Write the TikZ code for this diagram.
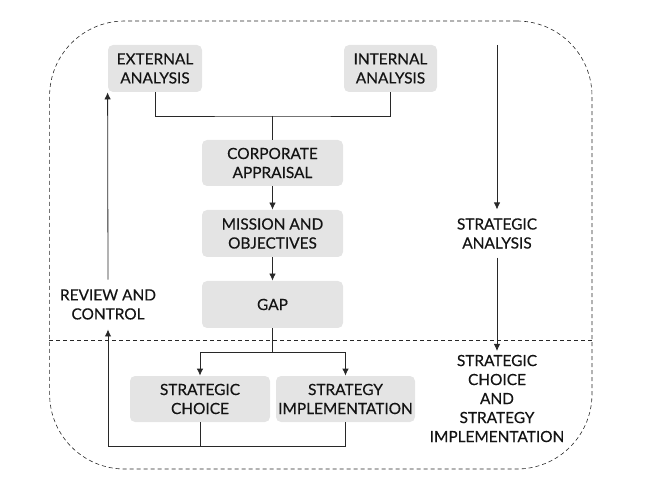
\documentclass[tikz,border=0pt]{standalone}
\usepackage{fontspec}
\setmainfont{Lato}[UprightFeatures={FakeBold=0.4}]
\usetikzlibrary{arrows.meta}
\definecolor{boxgray}{RGB}{228,228,228}
\definecolor{linegray}{RGB}{40,40,40}
\definecolor{textdark}{RGB}{20,20,20}
\begin{document}
\begin{tikzpicture}[x=1pt,y=-1pt,
    color=linegray, line width=0.8pt,
    every node/.style={text=textdark, font=\fontsize{15.4}{19}\selectfont},
    box/.style={fill=boxgray, rounded corners=5pt, align=center, inner sep=0pt},
    lbl/.style={align=center},
    frame/.style={draw, dash pattern=on 4pt off 3pt, rounded corners=75pt, line width=0.6pt},
    arr/.style={-{Latex[length=7pt,width=6.5pt]}}]
    \useasboundingbox (0,0) rectangle (649,484);

    \node[frame, minimum width=542.4pt, minimum height=448pt] (outer) at (320.8,245) {};

    \node[box, minimum width=94pt, minimum height=47pt] (ext) at (155,68.5) {EXTERNAL\\ANALYSIS};
    \node[box, minimum width=93pt, minimum height=47pt] (int) at (390.5,68.5) {INTERNAL\\ANALYSIS};
    \node[box, minimum width=141pt, minimum height=46pt] (corp) at (272.5,163) {CORPORATE\\APPRAISAL};
    \node[box, minimum width=141pt, minimum height=47pt] (mission) at (272.5,233.5) {MISSION AND\\OBJECTIVES};
    \node[box, minimum width=141pt, minimum height=47pt] (gap) at (272.5,304.5) {GAP};
    \node[box, minimum width=140pt, minimum height=46pt] (choice) at (200,399) {STRATEGIC\\CHOICE};
    \node[box, minimum width=139pt, minimum height=46pt] (impl) at (345.5,399) {STRATEGY\\IMPLEMENTATION};
    \node[lbl, inner sep=9.5pt] (review) at (108,304.5) {REVIEW AND\\CONTROL};
    \node[lbl, inner sep=8.5pt] (analysis) at (497,233.5) {STRATEGIC\\ANALYSIS};
    \node[lbl, inner sep=3.5pt, anchor=north] (choiceimpl) at (497,351) {STRATEGIC\\CHOICE\\AND\\STRATEGY\\IMPLEMENTATION};

    \coordinate (join) at (272.5,116);
    \coordinate (split) at (272.5,352);
    \coordinate (loop) at (108,446);
    \coordinate (top) at (497,45);

    \draw[dash pattern=on 4pt off 3pt, line width=0.6pt] (outer.west |- 0,340) -- (outer.east |- 0,340);

    \draw (ext.south) |- (join) -| (int.south);
    \draw (join) -- (corp.north);
    \draw[arr] (corp) -- (mission);
    \draw[arr] (mission) -- (gap);
    \draw (gap) -- (split);
    \draw[arr] (split) -| (choice.north);
    \draw[arr] (split) -| (impl.north);
    \draw[arr] (impl.south) |- (loop) -- (review.south);
    \draw (choice.south) -- (choice.south |- loop);
    \draw[arr] (review.north) -- (ext.south west);
    \draw[arr] (top) -- (analysis.north);
    \draw[arr] (analysis.south) -- (choiceimpl.north);
\end{tikzpicture}
\end{document}
